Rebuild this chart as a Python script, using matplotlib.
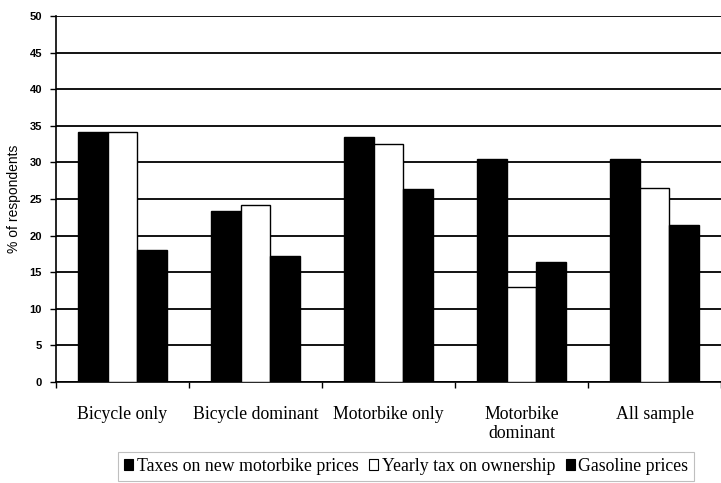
import matplotlib
matplotlib.use("Agg")
import matplotlib.pyplot as plt
import numpy as np
from matplotlib.patches import Patch

categories = ["Bicycle only", "Bicycle dominant", "Motorbike only",
              "Motorbike\ndominant", "All sample"]
taxes_new = [34.2, 23.3, 33.5, 30.5, 30.5]
yearly_tax = [34.2, 24.2, 32.5, 13.0, 26.5]
gasoline = [18.1, 17.2, 26.4, 16.4, 21.4]
series_names = ["Taxes on new motorbike prices", "Yearly tax on ownership",
                "Gasoline prices"]
y_ticks = list(range(0, 51, 5))

fig = plt.figure(figsize=(7.21, 4.83), dpi=100)
ax = fig.add_axes([56 / 721, (483 - 382) / 483, 665 / 721, 366 / 483])

x = np.arange(len(categories))
w = 0.222
series = [taxes_new, yearly_tax, gasoline]
faces = ["black", "white", "black"]
for i, (vals, fc, name) in enumerate(zip(series, faces, series_names)):
    ax.bar(x + (i - 1) * w, vals, width=w, color=fc, edgecolor="black",
           linewidth=1.0, label=name, zorder=3)

ax.set_ylim(0, 50)
ax.set_xlim(-0.5, 4.42)
ax.set_yticks(y_ticks)
ax.set_yticklabels([str(t) for t in y_ticks], fontsize=8,
                   fontweight="bold", family="Liberation Sans")
ax.yaxis.grid(True, color="black", linewidth=1.3, zorder=0)
ax.set_axisbelow(True)

ax.set_xticks(x)
ax.set_xticklabels(categories, family="Liberation Serif", fontsize=12.8,
                   va="top", linespacing=1.2)
ax.tick_params(axis="x", length=0, pad=17)
ax.set_xticks(np.arange(-0.5, 4.6, 1.0), minor=True)
ax.tick_params(axis="x", which="minor", length=4, width=1, direction="out")
ax.tick_params(axis="y", length=4, width=1, direction="out", pad=6)

ax.spines["top"].set_visible(False)
ax.spines["right"].set_visible(False)
ax.spines["left"].set_linewidth(1.2)
ax.spines["bottom"].set_linewidth(1.2)

ax.set_ylabel("% of respondents", family="Liberation Sans", fontsize=10,
              labelpad=6)

handles = [Patch(facecolor=fc, edgecolor="black", linewidth=0.8)
           for fc in faces]
leg = fig.legend(handles, series_names, loc="lower left",
                 bbox_to_anchor=(118 / 721, 2 / 483), ncol=3,
                 prop={"family": "Liberation Serif", "size": 12.8},
                 handlelength=0.5, handleheight=0.5, handletextpad=0.2,
                 columnspacing=0.6, borderpad=0.35, frameon=True,
                 fancybox=False, borderaxespad=0)
leg.get_frame().set_edgecolor("#b0b0b0")
leg.get_frame().set_linewidth(0.8)

fig.savefig("out.png", dpi=100)
